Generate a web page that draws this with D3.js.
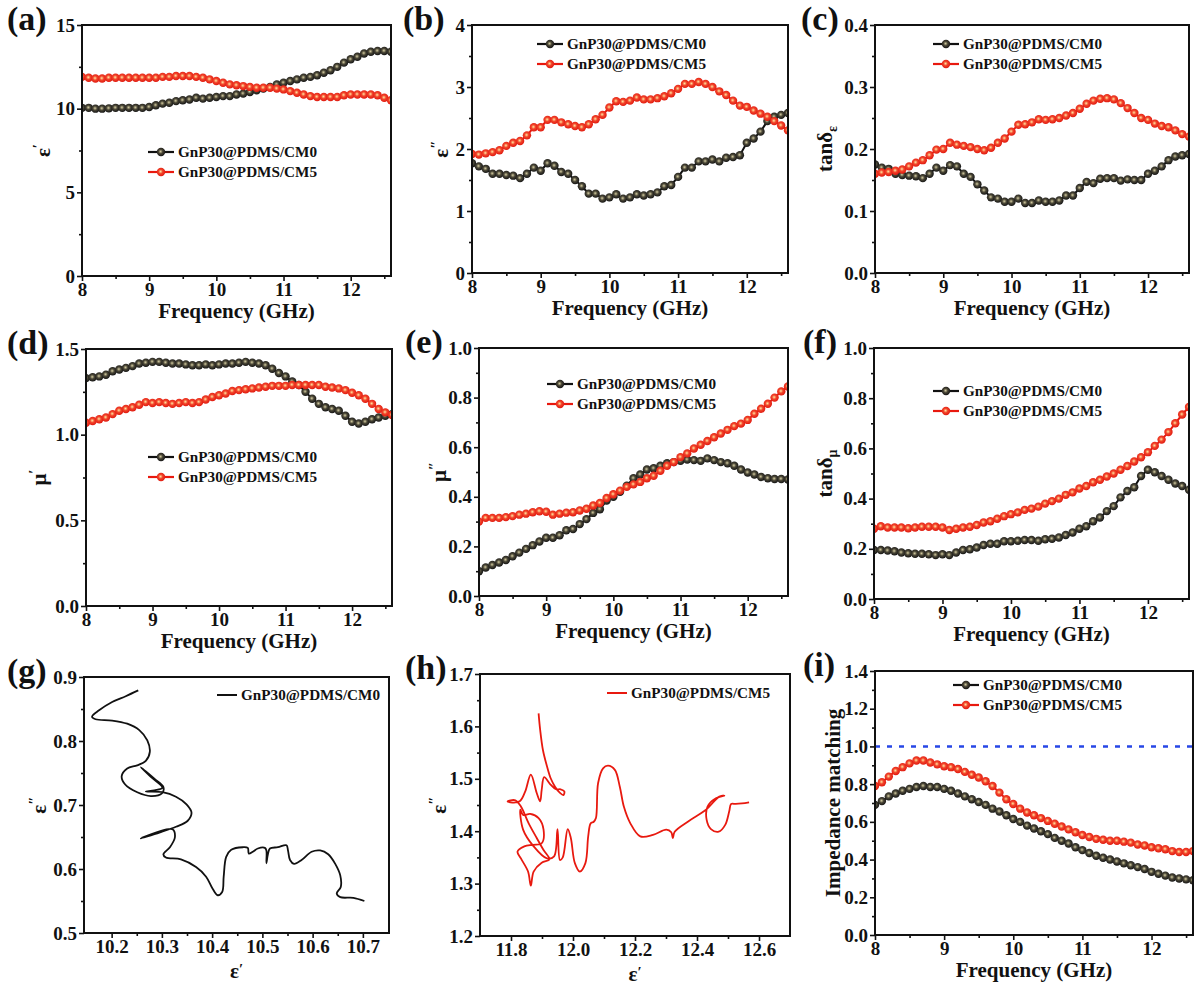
<!DOCTYPE html>
<html>
<head>
<meta charset="utf-8">
<script src="https://cdn.jsdelivr.net/npm/d3@7"></script>
<style>
  body { margin: 0; background: #fff; }
  svg { display: block; }
  text { font-family: "Liberation Serif", "Times New Roman", serif; font-weight: bold; fill: #111; }
</style>
</head>
<body>
<div id="chart"></div>
<script>
// ---- data ----
const freq = [8.0, 8.1, 8.2, 8.3, 8.4, 8.5, 8.6, 8.7, 8.8, 8.9, 9.0, 9.1, 9.2, 9.3, 9.4, 9.5, 9.6, 9.7, 9.8, 9.9,
  10.0, 10.1, 10.2, 10.3, 10.4, 10.5, 10.6, 10.7, 10.8, 10.9, 11.0, 11.1, 11.2, 11.3, 11.4, 11.5, 11.6, 11.7, 11.8, 11.9,
  12.0, 12.1, 12.2, 12.3, 12.4, 12.5, 12.6];

const seriesNames = ['GnP30@PDMS/CM0', 'GnP30@PDMS/CM5'];

const epsRe0 = [10.05, 10.05, 10.0, 10.0, 10.02, 10.05, 10.05, 10.05, 10.05, 10.05,
  10.1, 10.2, 10.3, 10.35, 10.45, 10.5, 10.55, 10.65, 10.6, 10.65,
  10.7, 10.75, 10.75, 10.85, 10.9, 11.0, 11.1, 11.2, 11.3, 11.45,
  11.55, 11.65, 11.75, 11.85, 11.9, 12.0, 12.15, 12.3, 12.5, 12.75,
  12.95, 13.1, 13.3, 13.4, 13.45, 13.45, 13.4];
const epsRe5 = [11.9, 11.85, 11.8, 11.8, 11.85, 11.85, 11.85, 11.85, 11.85, 11.85,
  11.85, 11.85, 11.9, 11.9, 11.95, 11.95, 11.95, 11.9, 11.85, 11.75,
  11.65, 11.55, 11.45, 11.4, 11.35, 11.3, 11.25, 11.25, 11.25, 11.2,
  11.15, 11.05, 10.95, 10.85, 10.75, 10.7, 10.7, 10.7, 10.7, 10.8,
  10.85, 10.85, 10.85, 10.85, 10.8, 10.65, 10.5];

const epsIm0 = [1.77, 1.72, 1.68, 1.6, 1.6, 1.58, 1.57, 1.53, 1.6, 1.7,
  1.65, 1.77, 1.73, 1.63, 1.6, 1.5, 1.4, 1.28, 1.28, 1.2,
  1.22, 1.27, 1.2, 1.22, 1.27, 1.25, 1.27, 1.3, 1.4, 1.42,
  1.55, 1.7, 1.7, 1.8, 1.8, 1.83, 1.8, 1.86, 1.87, 1.9,
  2.1, 2.17, 2.28, 2.45, 2.52, 2.55, 2.58];
const epsIm5 = [1.92, 1.91, 1.93, 1.95, 1.98, 2.05, 2.1, 2.13, 2.22, 2.35,
  2.35, 2.47, 2.47, 2.43, 2.4, 2.37, 2.35, 2.4, 2.48, 2.55,
  2.67, 2.77, 2.76, 2.78, 2.83, 2.8, 2.8, 2.82, 2.85, 2.9,
  2.97, 3.05, 3.05, 3.08, 3.05, 3.0, 2.93, 2.87, 2.78, 2.7,
  2.68, 2.62, 2.57, 2.52, 2.45, 2.38, 2.3];

const tanE0 = [0.175, 0.17, 0.168, 0.16, 0.158, 0.157, 0.156, 0.153, 0.16, 0.17,
  0.165, 0.174, 0.172, 0.16, 0.155, 0.143, 0.133, 0.122, 0.12, 0.115,
  0.115, 0.12, 0.113, 0.113, 0.117, 0.115, 0.115, 0.117, 0.125, 0.125,
  0.137, 0.147, 0.145, 0.152, 0.153, 0.153, 0.149, 0.151, 0.15, 0.15,
  0.16, 0.165, 0.172, 0.182, 0.188, 0.19, 0.192];
const tanE5 = [0.16, 0.162, 0.163, 0.165, 0.167, 0.172, 0.178, 0.182, 0.19, 0.199,
  0.2, 0.21, 0.207, 0.205, 0.203, 0.2, 0.198, 0.202, 0.21, 0.217,
  0.228, 0.239, 0.24, 0.243, 0.248, 0.247, 0.248, 0.25, 0.254, 0.258,
  0.265, 0.273, 0.278, 0.281, 0.282, 0.28, 0.274, 0.266, 0.258, 0.25,
  0.247, 0.241, 0.237, 0.235, 0.23, 0.224, 0.22];

const muRe0 = [1.33, 1.335, 1.34, 1.35, 1.37, 1.38, 1.39, 1.4, 1.415, 1.42,
  1.425, 1.425, 1.42, 1.415, 1.415, 1.41, 1.405, 1.405, 1.41, 1.405,
  1.41, 1.415, 1.415, 1.42, 1.425, 1.42, 1.415, 1.405, 1.385, 1.36,
  1.34, 1.31, 1.29, 1.25, 1.21, 1.18, 1.16, 1.15, 1.14, 1.11,
  1.075, 1.065, 1.075, 1.09, 1.1, 1.11, 1.12];
const muRe5 = [1.07, 1.08, 1.09, 1.1, 1.12, 1.14, 1.15, 1.16, 1.175, 1.19,
  1.185, 1.19, 1.185, 1.18, 1.185, 1.19, 1.185, 1.19, 1.205, 1.22,
  1.23, 1.24, 1.255, 1.26, 1.265, 1.27, 1.275, 1.28, 1.285, 1.285,
  1.285, 1.29, 1.29, 1.29, 1.29, 1.29, 1.28, 1.275, 1.27, 1.26,
  1.245, 1.23, 1.21, 1.18, 1.15, 1.13, 1.115];

const muIm0 = [0.1, 0.115, 0.125, 0.135, 0.145, 0.16, 0.175, 0.19, 0.205, 0.22,
  0.235, 0.235, 0.245, 0.265, 0.27, 0.29, 0.31, 0.335, 0.35, 0.385,
  0.4, 0.42, 0.445, 0.475, 0.49, 0.51, 0.515, 0.525, 0.535, 0.54,
  0.545, 0.55, 0.548, 0.545, 0.555, 0.548, 0.54, 0.535, 0.525, 0.51,
  0.498, 0.49, 0.48, 0.475, 0.472, 0.472, 0.47];
const muIm5 = [0.3, 0.315, 0.315, 0.315, 0.318, 0.322, 0.328, 0.332, 0.338, 0.342,
  0.34, 0.328, 0.332, 0.336, 0.338, 0.345, 0.352, 0.365, 0.375, 0.395,
  0.41, 0.425, 0.44, 0.45, 0.46, 0.475, 0.485, 0.505, 0.525, 0.54,
  0.56, 0.575, 0.595, 0.61, 0.625, 0.64, 0.655, 0.67, 0.685, 0.695,
  0.71, 0.735, 0.755, 0.775, 0.8, 0.825, 0.845];

const tanM0 = [0.195, 0.195, 0.193, 0.19, 0.185, 0.182, 0.18, 0.18, 0.178, 0.175,
  0.178, 0.175, 0.185, 0.195, 0.198, 0.205, 0.215, 0.22, 0.22, 0.23,
  0.23, 0.232, 0.235, 0.235, 0.232, 0.238, 0.24, 0.245, 0.255, 0.265,
  0.28, 0.29, 0.31, 0.325, 0.35, 0.37, 0.405, 0.43, 0.445, 0.49,
  0.515, 0.505, 0.49, 0.475, 0.46, 0.45, 0.435];
const tanM5 = [0.28, 0.29, 0.285, 0.285, 0.285, 0.282, 0.285, 0.288, 0.288, 0.288,
  0.285, 0.275, 0.28, 0.285, 0.288, 0.295, 0.305, 0.31, 0.32, 0.33,
  0.338, 0.345, 0.355, 0.36, 0.368, 0.38, 0.39, 0.4, 0.415, 0.425,
  0.44, 0.45, 0.465, 0.475, 0.488, 0.5, 0.515, 0.53, 0.548, 0.565,
  0.585, 0.61, 0.635, 0.665, 0.7, 0.735, 0.765];

const imp0 = [0.69, 0.71, 0.735, 0.75, 0.765, 0.775, 0.785, 0.79, 0.785, 0.785,
  0.775, 0.765, 0.75, 0.735, 0.72, 0.705, 0.69, 0.67, 0.655, 0.635,
  0.615, 0.6, 0.58, 0.565, 0.55, 0.535, 0.515, 0.5, 0.485, 0.465,
  0.45, 0.435, 0.42, 0.41, 0.4, 0.39, 0.38, 0.37, 0.36, 0.35,
  0.335, 0.325, 0.315, 0.305, 0.3, 0.295, 0.29];
const imp5 = [0.79, 0.81, 0.84, 0.87, 0.89, 0.91, 0.925, 0.925, 0.915, 0.905,
  0.895, 0.89, 0.88, 0.865, 0.85, 0.835, 0.815, 0.79, 0.755, 0.72,
  0.695, 0.67, 0.65, 0.635, 0.62, 0.605, 0.59, 0.575, 0.56, 0.545,
  0.53, 0.52, 0.51, 0.505, 0.5, 0.5, 0.495, 0.49, 0.48, 0.475,
  0.465, 0.46, 0.455, 0.445, 0.44, 0.44, 0.445];

// Cole-Cole traces (eps', eps'')
const coleRe0 = [10.253, 10.228, 10.201, 10.175, 10.161, 10.168, 10.201, 10.231, 10.255, 10.271,
  10.276, 10.268, 10.251, 10.231, 10.22, 10.227, 10.251, 10.278, 10.3, 10.303,
  10.285, 10.258, 10.278, 10.301, 10.285, 10.268, 10.301, 10.328, 10.349, 10.359,
  10.351, 10.328, 10.295, 10.258, 10.321, 10.326, 10.316, 10.303, 10.308, 10.338,
  10.368, 10.388, 10.401, 10.411, 10.42, 10.423, 10.428, 10.438, 10.461, 10.471,
  10.473, 10.481, 10.491, 10.505, 10.508, 10.508, 10.511, 10.515, 10.531, 10.548,
  10.551, 10.555, 10.563, 10.578, 10.598, 10.615, 10.631, 10.645, 10.655, 10.656,
  10.648, 10.655, 10.681, 10.703];
const coleIm0 = [0.879, 0.870, 0.861, 0.848, 0.838, 0.834, 0.832, 0.827, 0.817, 0.801,
  0.783, 0.769, 0.762, 0.757, 0.745, 0.732, 0.720, 0.714, 0.718, 0.728,
  0.741, 0.759, 0.744, 0.727, 0.723, 0.721, 0.720, 0.713, 0.701, 0.688,
  0.675, 0.666, 0.657, 0.648, 0.662, 0.650, 0.634, 0.623, 0.618, 0.615,
  0.603, 0.588, 0.569, 0.559, 0.564, 0.588, 0.619, 0.630, 0.634, 0.633,
  0.624, 0.627, 0.632, 0.633, 0.629, 0.609, 0.623, 0.632, 0.634, 0.637,
  0.629, 0.614, 0.608, 0.614, 0.627, 0.629, 0.623, 0.608, 0.590, 0.572,
  0.562, 0.556, 0.555, 0.550];

const coleRe5 = [11.889, 11.894, 11.903, 11.916, 11.928, 11.942, 11.958, 11.969, 11.972, 11.960,
  11.945, 11.926, 11.907, 11.899, 11.894, 11.883, 11.864, 11.846, 11.828, 11.798,
  11.789, 11.814, 11.832, 11.857, 11.883, 11.905, 11.924, 11.899, 11.873, 11.864,
  11.855, 11.832, 11.821, 11.843, 11.871, 11.899, 11.905, 11.889, 11.862, 11.839,
  11.830, 11.839, 11.873, 11.916, 11.939, 11.950, 11.958, 11.967, 11.983, 11.993,
  12.006, 12.022, 12.040, 12.049, 12.057, 12.067, 12.074, 12.081, 12.097, 12.113,
  12.135, 12.151, 12.164, 12.185, 12.217, 12.258, 12.301, 12.317, 12.322, 12.328,
  12.375, 12.429, 12.472, 12.488, 12.461, 12.434, 12.431, 12.445, 12.470, 12.491,
  12.504, 12.510, 12.525, 12.545, 12.568];
const coleIm5 = [1.625, 1.594, 1.555, 1.524, 1.501, 1.485, 1.473, 1.469, 1.476, 1.480,
  1.480, 1.490, 1.503, 1.479, 1.457, 1.473, 1.508, 1.476, 1.457, 1.455,
  1.457, 1.459, 1.447, 1.415, 1.387, 1.364, 1.346, 1.340, 1.323, 1.296,
  1.323, 1.348, 1.361, 1.371, 1.374, 1.377, 1.403, 1.425, 1.433, 1.431,
  1.441, 1.403, 1.371, 1.348, 1.352, 1.404, 1.345, 1.350, 1.404, 1.387,
  1.339, 1.323, 1.339, 1.390, 1.415, 1.418, 1.425, 1.492, 1.520, 1.525,
  1.517, 1.485, 1.447, 1.415, 1.390, 1.393, 1.403, 1.398, 1.387, 1.399,
  1.420, 1.441, 1.466, 1.468, 1.463, 1.447, 1.422, 1.404, 1.399, 1.412,
  1.438, 1.452, 1.452, 1.453, 1.455];

// ---- layout ----
const W = 1196, H = 989;
const svg = d3.select('#chart').append('svg').attr('width', W).attr('height', H);
const defs = svg.append('defs');

const colors = {
  black: { line: '#111', edge: '#151515', mid: '#4a4636', hi: '#d4cca0' },
  red: { line: '#e8190f', edge: '#e01a10', mid: '#f2442a', hi: '#ffe6a0' }
};
Object.entries(colors).forEach(([k, c]) => {
  const g = defs.append('radialGradient').attr('id', 'ball-' + k)
    .attr('cx', '45%').attr('cy', '45%').attr('r', '55%');
  g.append('stop').attr('offset', '0%').attr('stop-color', c.hi);
  g.append('stop').attr('offset', '45%').attr('stop-color', c.mid);
  g.append('stop').attr('offset', '100%').attr('stop-color', c.edge);
});

const panels = [
  { tag: '(a)', tagx: 7, box: [82, 25, 391, 276], y: [0, 15], yt: [0, 5, 10, 15], fmt: d3.format('d'),
    s: [epsRe0, epsRe5], ylab: ['ε', '′'], ylx: 50, leg: [148, 152] },
  { tag: '(b)', tagx: 403, box: [472, 25, 788, 273], y: [0, 4], yt: [0, 1, 2, 3, 4], fmt: d3.format('d'),
    s: [epsIm0, epsIm5], ylab: ['ε', '″'], ylx: 448, leg: [537, 44] },
  { tag: '(c)', tagx: 801, box: [875, 25, 1189, 273], y: [0, 0.4], yt: [0, 0.1, 0.2, 0.3, 0.4], fmt: d3.format('.1f'),
    s: [tanE0, tanE5], ylab: ['tanδ', 'ε', 'sub'], ylx: 832, leg: [933, 44] },
  { tag: '(d)', tagx: 7, box: [86, 349, 392, 606], y: [0, 1.5], yt: [0, 0.5, 1.0, 1.5], fmt: d3.format('.1f'),
    s: [muRe0, muRe5], ylab: ['μ', '′'], ylx: 46, leg: [148, 457] },
  { tag: '(e)', tagx: 405, box: [479, 348, 788, 596], y: [0, 1], yt: [0, 0.2, 0.4, 0.6, 0.8, 1.0], fmt: d3.format('.1f'),
    s: [muIm0, muIm5], ylab: ['μ', '″'], ylx: 446, leg: [547, 384] },
  { tag: '(f)', tagx: 803, box: [874, 348, 1189, 599], y: [0, 1], yt: [0, 0.2, 0.4, 0.6, 0.8, 1.0], fmt: d3.format('.1f'),
    s: [tanM0, tanM5], ylab: ['tanδ', 'μ', 'sub'], ylx: 832, leg: [933, 391] },
  { tag: '(i)', tagx: 803, box: [875, 671, 1193, 935], y: [0, 1.4], yt: [0, 0.2, 0.4, 0.6, 0.8, 1.0, 1.2, 1.4], fmt: d3.format('.1f'),
    s: [imp0, imp5], ylab: ['Impedance matching'], ylx: 840, leg: [953, 685], ref: 1.0 }
];

const coles = [
  { tag: '(g)', tagx: 7, box: [84, 677, 389, 933], x: [10.145, 10.752], xt: [10.2, 10.3, 10.4, 10.5, 10.6, 10.7],
    y: [0.5, 0.9], yt: [0.5, 0.6, 0.7, 0.8, 0.9], re: coleRe0, im: coleIm0, color: '#111',
    name: seriesNames[0], ylx: 46, leg: [217, 695] },
  { tag: '(h)', tagx: 405, box: [480, 674, 790, 936], x: [11.7, 12.7], xt: [11.8, 12.0, 12.2, 12.4, 12.6],
    y: [1.2, 1.7], yt: [1.2, 1.3, 1.4, 1.5, 1.6, 1.7], re: coleRe5, im: coleIm5, color: '#e8190f',
    name: seriesNames[1], ylx: 446, leg: [607, 693] }
];

function minorTicks(t) {
  const out = [];
  for (let i = 0; i < t.length - 1; i++) out.push((t[i] + t[i + 1]) / 2);
  return out;
}

function frame(g, p, x, y, xt, yt, xfmt, yfmt, xMinorExtra) {
  const [l, t, r, b] = p.box;
  g.append('g').attr('transform', `translate(0,${b})`)
    .call(d3.axisBottom(x).tickValues(xt).tickFormat(xfmt).tickSize(5).tickPadding(2));
  const xm = minorTicks(xt).concat(xMinorExtra || []);
  g.append('g').attr('transform', `translate(0,${b})`)
    .call(d3.axisBottom(x).tickValues(xm).tickFormat('').tickSize(3));
  g.append('g').attr('transform', `translate(${l},0)`)
    .call(d3.axisLeft(y).tickValues(yt).tickFormat(yfmt).tickSize(5).tickPadding(2));
  g.append('g').attr('transform', `translate(${l},0)`)
    .call(d3.axisLeft(y).tickValues(minorTicks(yt)).tickFormat('').tickSize(3));
  g.selectAll('.domain').remove();
  g.selectAll('.tick line').attr('stroke', '#111').attr('stroke-width', 1.6);
  g.selectAll('.tick text').style('font-size', '19px').style('font-family', '"Liberation Serif", serif')
    .style('font-weight', 'bold').attr('fill', '#111');
  g.append('rect').attr('x', l).attr('y', t).attr('width', r - l).attr('height', b - t)
    .attr('fill', 'none').attr('stroke', '#111').attr('stroke-width', 2);
  // panel tag
  g.append('text').attr('x', p.tagx).attr('y', t + 5).style('font-size', '34px').text(p.tag);
}

function yLabel(g, p) {
  const [l, t, r, b] = p.box;
  const cy = (t + b) / 2;
  const tx = g.append('text').attr('transform', `translate(${p.ylx},${cy}) rotate(-90)`)
    .attr('text-anchor', 'middle').style('font-size', '21px');
  if (p.ylab.length === 1) {
    tx.text(p.ylab[0]);
  } else if (p.ylab[2] === 'sub') {
    tx.append('tspan').text(p.ylab[0]);
    tx.append('tspan').attr('dy', 5).style('font-size', '14px').text(p.ylab[1]);
  } else {
    tx.append('tspan').text(p.ylab[0]);
    tx.append('tspan').attr('dy', -7).style('font-size', '15px').text(p.ylab[1]);
  }
}

function xTitle(g, p, label) {
  const [l, t, r, b] = p.box;
  const tx = g.append('text').attr('x', (l + r) / 2).attr('y', b + (label ? 45 : 42))
    .attr('text-anchor', 'middle').style('font-size', '21px');
  if (label) {
    tx.append('tspan').text('ε');
    tx.append('tspan').attr('dy', -4).style('font-size', '15px').text('′');
  } else {
    tx.text('Frequency (GHz)');
  }
}

const R = 4.2;
panels.forEach((p, pi) => {
  const [l, t, r, b] = p.box;
  const x = d3.scaleLinear().domain([8, 12.6]).range([l, r]);
  const y = d3.scaleLinear().domain(p.y).range([b, t]);
  const g = svg.append('g');
  const clipId = 'clip' + pi;
  defs.append('clipPath').attr('id', clipId).append('rect')
    .attr('x', l).attr('y', t).attr('width', r - l).attr('height', b - t);
  const plot = g.append('g').attr('clip-path', `url(#${clipId})`);

  if (p.ref !== undefined) {
    plot.append('line').attr('x1', l).attr('x2', r).attr('y1', y(p.ref)).attr('y2', y(p.ref))
      .attr('stroke', '#2747e6').attr('stroke-width', 2.6).attr('stroke-dasharray', '5,7');
  }

  ['black', 'red'].forEach((ck, si) => {
    const vals = p.s[si];
    const line = d3.line().x((d, i) => x(freq[i])).y(d => y(d));
    plot.append('path').datum(vals).attr('d', line).attr('fill', 'none')
      .attr('stroke', colors[ck].line).attr('stroke-width', 2);
    plot.selectAll('.m' + si).data(vals).enter().append('circle')
      .attr('cx', (d, i) => x(freq[i])).attr('cy', d => y(d)).attr('r', R)
      .attr('fill', `url(#ball-${ck})`);
  });

  frame(g, p, x, y, [8, 9, 10, 11, 12], p.yt, d3.format('d'), p.fmt, [12.5]);
  yLabel(g, p);
  xTitle(g, p, false);

  // legend
  const [lx, ly] = p.leg;
  ['black', 'red'].forEach((ck, si) => {
    const yy = ly + si * 20;
    g.append('line').attr('x1', lx).attr('x2', lx + 26).attr('y1', yy).attr('y2', yy)
      .attr('stroke', colors[ck].line).attr('stroke-width', 2.2);
    g.append('circle').attr('cx', lx + 13).attr('cy', yy).attr('r', R).attr('fill', `url(#ball-${ck})`);
    g.append('text').attr('x', lx + 30).attr('y', yy + 5).style('font-size', '15.2px').text(seriesNames[si]);
  });
});

coles.forEach((p, pi) => {
  const [l, t, r, b] = p.box;
  const x = d3.scaleLinear().domain(p.x).range([l, r]);
  const y = d3.scaleLinear().domain(p.y).range([b, t]);
  const g = svg.append('g');
  const pts = p.re.map((v, i) => [v, p.im[i]]);
  g.append('path').datum(pts)
    .attr('d', d3.line().x(d => x(d[0])).y(d => y(d[1])).curve(d3.curveCatmullRom.alpha(0.5)))
    .attr('fill', 'none').attr('stroke', p.color).attr('stroke-width', 1.8);

  frame(g, p, x, y, p.xt, p.yt, d3.format('.1f'), d3.format('.1f'), []);
  p.ylab = ['ε', '″'];
  yLabel(g, p);
  xTitle(g, p, true);

  const [lx, ly] = p.leg;
  g.append('line').attr('x1', lx).attr('x2', lx + 20).attr('y1', ly).attr('y2', ly)
    .attr('stroke', p.color).attr('stroke-width', 2);
  g.append('text').attr('x', lx + 24).attr('y', ly + 5).style('font-size', '15.2px').text(p.name);
});
</script>
</body>
</html>
